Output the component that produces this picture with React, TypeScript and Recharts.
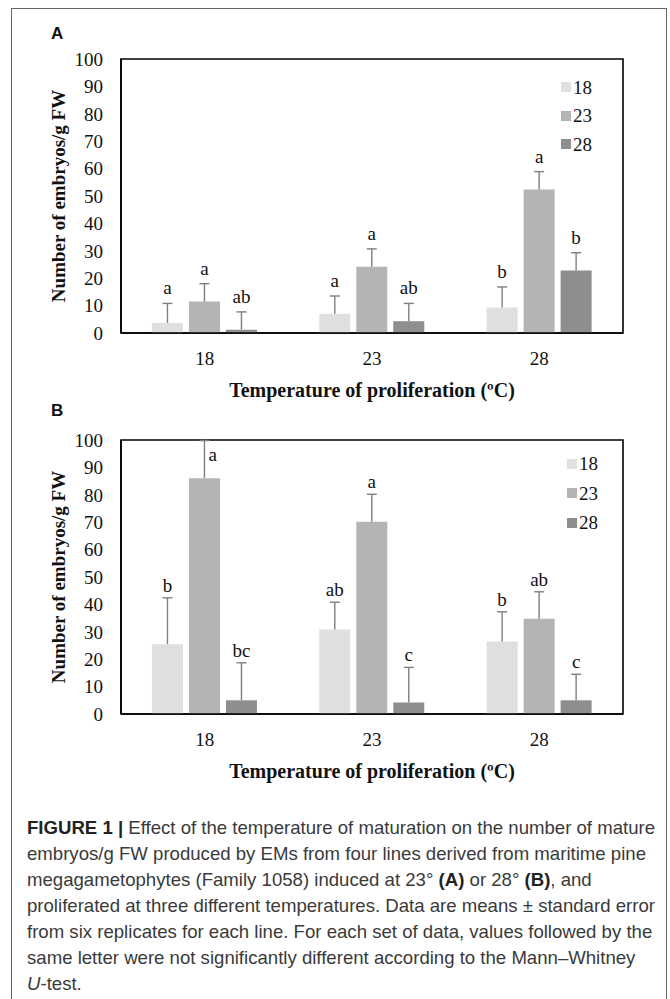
import React from 'react';
import { BarChart, Bar, XAxis, YAxis, LabelList, Legend, Label, ReferenceArea } from 'recharts';

// ---------- data ----------
const categories = ['18', '23', '28'];
const seriesNames = ['18', '23', '28'];
const yTicks = [0, 10, 20, 30, 40, 50, 60, 70, 80, 90, 100];

// Panel A (induced at 23°)
const aMean18 = [3.7, 7.0, 9.3];
const aMean23 = [11.5, 24.2, 52.4];
const aMean28 = [1.2, 4.3, 22.8];
const aErr18 = [7.1, 6.5, 7.5];
const aErr23 = [6.5, 6.5, 6.5];
const aErr28 = [6.5, 6.5, 6.5];
const aLet18 = ['a', 'a', 'b'];
const aLet23 = ['a', 'a', 'a'];
const aLet28 = ['ab', 'ab', 'b'];

// Panel B (induced at 28°)
const bMean18 = [25.5, 30.8, 26.5];
const bMean23 = [86.0, 70.2, 34.8];
const bMean28 = [5.0, 4.2, 5.0];
const bErr18 = [16.9, 10.0, 10.8];
const bErr23 = [13.8, 10.0, 9.8];
const bErr28 = [13.7, 12.8, 9.5];
const bLet18 = ['b', 'ab', 'b'];
const bLet23 = ['a', 'a', 'ab'];
const bLet28 = ['bc', 'c', 'c'];

const captionLines = [
  'embryos/g FW produced by EMs from four lines derived from maritime pine',
  'proliferated at three different temperatures. Data are means \u00b1 standard error',
  'from six replicates for each line. For each set of data, values followed by the',
  'same letter were not significantly different according to the Mann\u2013Whitney',
];

// ---------- styles ----------
const COLORS = ['#dfdfdf', '#b4b4b4', '#8e8e8e'];
const ERR_COLOR = '#7f7f7f';
const SERIF = '"Liberation Serif", "Times New Roman", serif';
const SANS = '"Liberation Sans", Arial, Helvetica, sans-serif';
const W = 670;
const H = 420;

function renderWhisker(p: any, means: number[], errs: number[], letters: string[], gap: number) {
  const vb = p.viewBox || p;
  const x = Number(vb.x);
  const w = Number(vb.width);
  const hRaw = Number(vb.height);
  const y = hRaw < 0 ? Number(vb.y) + hRaw : Number(vb.y);
  const h = Math.abs(hRaw);
  const i = p.index !== undefined ? Number(p.index) : Number(p.value);
  const mean = means[i];
  const err = errs[i];
  if (!isFinite(x) || !isFinite(y) || !mean) return null;
  const ppu = h / mean;
  const cx = x + w / 2;
  const top = y - err * ppu;
  const beside = mean + err > 95;
  return (
    <g key={`wh-${i}`}>
      <line x1={cx} y1={y} x2={cx} y2={top} stroke={ERR_COLOR} strokeWidth={1.4} />
      <line x1={cx - 5} y1={top} x2={cx + 5} y2={top} stroke={ERR_COLOR} strokeWidth={1.4} />
      <text
        x={beside ? cx + 4 : cx}
        y={beside ? top + 20 : top - gap}
        textAnchor={beside ? 'start' : 'middle'}
        fontFamily={SERIF}
        fontSize={19}
        fill="#111"
      >
        {letters[i]}
      </text>
    </g>
  );
}

type PanelProps = {
  means: number[][];
  errs: number[][];
  letters: string[][];
  gap: number;
  legendTop: number;
  legendLeft: number;
  legendRow: number;
};

function Panel({ means, errs, letters, gap, legendTop, legendLeft, legendRow }: PanelProps) {
  const rows = categories.map((c, i) => ({
    cat: c,
    idx: i,
    s0: means[0][i],
    s1: means[1][i],
    s2: means[2][i],
  }));
  return (
    <BarChart
      width={W}
      height={H}
      data={rows}
      margin={{ top: 59, right: 47, left: 0, bottom: 57 }}
      barCategoryGap="18.5%"
      barGap={6}
    >
      <XAxis
        dataKey="cat"
        height={30}
        tickLine={false}
        tickSize={0}
        tickMargin={19}
        axisLine={{ stroke: '#000', strokeWidth: 1.6 }}
        stroke="#000"
        tick={{ fontFamily: SERIF, fontSize: 19, fill: '#111' }}
      >
        <Label
          content={(lp: any) => {
            const vb = lp.viewBox || {};
            return (
              <text
                x={vb.x + vb.width / 2}
                y={vb.y + 64}
                textAnchor="middle"
                fontFamily={SERIF}
                fontWeight="bold"
                fontSize={20}
                fill="#111"
              >
                Temperature of proliferation (ºC)
              </text>
            );
          }}
        />
      </XAxis>
      <YAxis
        width={121}
        domain={[0, 100]}
        ticks={yTicks}
        interval={0}
        tickLine={false}
        tickSize={0}
        tickMargin={18}
        axisLine={{ stroke: '#000', strokeWidth: 1.6 }}
        stroke="#000"
        tick={{ fontFamily: SERIF, fontSize: 19, fill: '#111' }}
      >
        <Label
          content={(lp: any) => {
            const vb = lp.viewBox || {};
            const cx = vb.x + 58;
            const cy = vb.y + vb.height / 2;
            return (
              <text
                x={cx}
                y={cy}
                transform={`rotate(-90 ${cx} ${cy})`}
                textAnchor="middle"
                dominantBaseline="central"
                fontFamily={SERIF}
                fontWeight="bold"
                fontSize={19}
                fill="#111"
              >
                Number of embryos/g FW
              </text>
            );
          }}
        />
      </YAxis>
      <ReferenceArea
        y1={0}
        y2={100}
        fill="none"
        fillOpacity={0}
        stroke="#000"
        strokeWidth={1.6}
        strokeOpacity={1}
        ifOverflow="visible"
      />
      <Legend
        layout="vertical"
        align="center"
        verticalAlign="middle"
        wrapperStyle={{ position: 'absolute', top: legendTop, left: legendLeft, width: 60, height: legendRow * 3 }}
        content={(lp: any) => (
          <div>
            {(lp.payload || []).map((e: any, k: number) => (
              <div
                key={`lg-${k}`}
                style={{ display: 'flex', alignItems: 'center', height: legendRow }}
              >
                <span style={{ width: 10, height: 10, background: e.color, display: 'inline-block' }} />
                <span style={{ marginLeft: 2, fontFamily: SERIF, fontSize: 19, color: '#111', lineHeight: '19px' }}>
                  {e.value}
                </span>
              </div>
            ))}
          </div>
        )}
      />
      {seriesNames.map((n, k) => (
        <Bar key={n} dataKey={`s${k}`} name={n} fill={COLORS[k]} isAnimationActive={false}>
          <LabelList
            dataKey="idx"
            content={(p: any) => renderWhisker(p, means[k], errs[k], letters[k], gap)}
          />
        </Bar>
      ))}
    </BarChart>
  );
}

export default function App() {
  return (
    <div style={{ position: 'absolute', left: 0, top: 0, width: 670, height: 999, background: '#fff', overflow: 'hidden' }}>
      <div
        style={{
          position: 'absolute',
          left: 11,
          top: 8,
          width: 656,
          height: 1100,
          borderLeft: '1.5px solid #666',
          borderRight: '1.5px solid #666',
          borderTop: '1.5px solid #666',
          boxSizing: 'border-box',
        }}
      />
      <div style={{ position: 'absolute', left: 51, top: 24, fontFamily: SANS, fontWeight: 'bold', fontSize: 17, color: '#111' }}>A</div>
      <div style={{ position: 'absolute', left: 0, top: 0 }}>
        <Panel
          means={[aMean18, aMean23, aMean28]}
          errs={[aErr18, aErr23, aErr28]}
          letters={[aLet18, aLet23, aLet28]}
          gap={9}
          legendTop={73}
          legendLeft={561}
          legendRow={28.5}
        />
      </div>
      <div style={{ position: 'absolute', left: 51, top: 401, fontFamily: SANS, fontWeight: 'bold', fontSize: 17, color: '#111' }}>B</div>
      <div style={{ position: 'absolute', left: 0, top: 381 }}>
        <Panel
          means={[bMean18, bMean23, bMean28]}
          errs={[bErr18, bErr23, bErr28]}
          letters={[bLet18, bLet23, bLet28]}
          gap={6}
          legendTop={68}
          legendLeft={567}
          legendRow={29.5}
        />
      </div>
      <div
        style={{
          position: 'absolute',
          left: 27,
          top: 815,
          fontFamily: SANS,
          fontSize: 18.6,
          lineHeight: '26px',
          color: '#3a3a3a',
          whiteSpace: 'nowrap',
        }}
      >
        <div>
          <b style={{ color: '#222' }}>FIGURE 1 |</b> Effect of the temperature of maturation on the number of mature
        </div>
        <div>{captionLines[0]}</div>
        <div>
          megagametophytes (Family 1058) induced at 23° <b style={{ color: '#222' }}>(A)</b> or 28°{' '}
          <b style={{ color: '#222' }}>(B)</b>, and
        </div>
        <div>{captionLines[1]}</div>
        <div>{captionLines[2]}</div>
        <div>{captionLines[3]}</div>
        <div>
          <i>U</i>-test.
        </div>
      </div>
    </div>
  );
}
